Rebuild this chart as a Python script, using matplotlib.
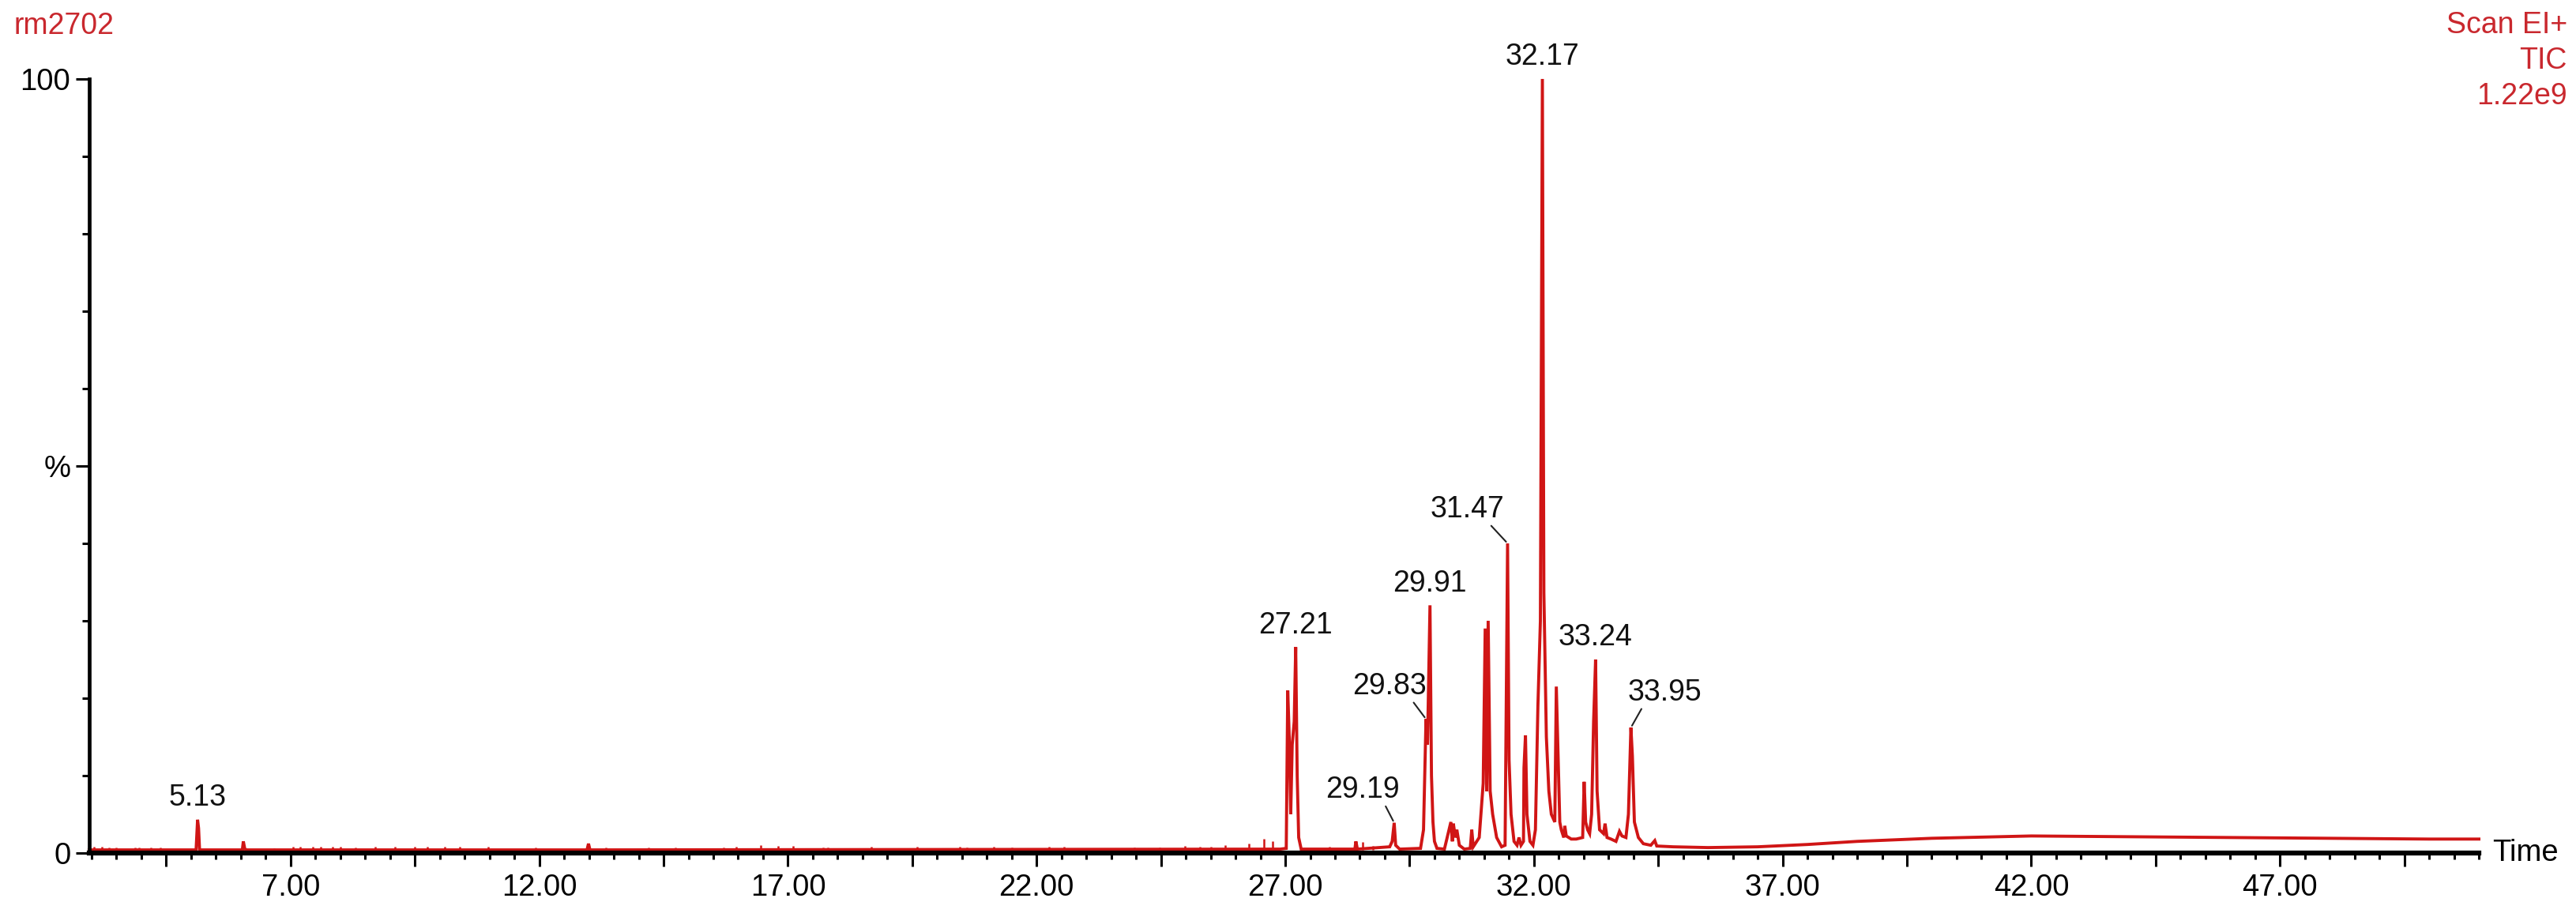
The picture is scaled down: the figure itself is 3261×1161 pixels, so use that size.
import numpy as np
import matplotlib
matplotlib.use('Agg')
import matplotlib.pyplot as plt
from matplotlib.ticker import FixedLocator, MultipleLocator, FuncFormatter

plt.rcParams['font.family'] = ['Liberation Sans', 'DejaVu Sans']

# TIC trace: retention time (min), relative abundance (%)
rt = [2.95, 5.10, 5.13, 5.15, 5.17, 6.03, 6.05, 6.08, 6.12, 12.96, 12.99, 13.02,
      26.0, 26.9, 27.02, 27.05, 27.08, 27.11, 27.14, 27.18, 27.21, 27.24, 27.27, 27.32,
      28.4, 28.42, 28.45, 29.1, 29.15, 29.19, 29.22, 29.3,
      29.72, 29.78, 29.83, 29.86, 29.91, 29.94, 29.97, 30.0, 30.05, 30.2,
      30.33, 30.36, 30.38, 30.42, 30.45, 30.5, 30.6, 30.72, 30.75, 30.78,
      30.9, 30.98, 31.02, 31.05, 31.08, 31.12, 31.17, 31.25, 31.35, 31.42,
      31.47, 31.5, 31.54, 31.6, 31.66, 31.7, 31.74, 31.79, 31.8, 31.83, 31.86, 31.92,
      31.98, 32.03, 32.08, 32.13, 32.17, 32.2, 32.25, 32.3, 32.35, 32.42, 32.45, 32.48,
      32.52, 32.55, 32.6, 32.62, 32.65, 32.75, 32.85, 32.98, 33.01, 33.04, 33.08, 33.12,
      33.16, 33.2, 33.24, 33.27, 33.32, 33.4, 33.43, 33.47, 33.55, 33.65, 33.72, 33.77,
      33.85, 33.9, 33.95, 33.98, 34.02, 34.1, 34.2, 34.35, 34.43, 34.47, 34.8, 35.5,
      36.5, 37.5, 38.5, 40.0, 42.0, 44.0, 46.0, 48.0, 50.0, 51.0]
rel = [0.4, 0.4, 4.3, 3.2, 0.4, 0.4, 1.5, 0.5, 0.4, 0.4, 1.2, 0.4,
       0.5, 0.5, 0.6, 21.0, 15.0, 5.0, 14.0, 17.0, 26.6, 10.0, 2.0, 0.5,
       0.5, 1.5, 0.5, 0.8, 1.5, 3.9, 1.0, 0.5,
       0.6, 3.0, 17.3, 14.0, 32.0, 10.0, 4.0, 1.5, 0.6, 0.5,
       4.0, 1.5, 3.8, 2.0, 3.0, 1.0, 0.5, 0.6, 3.0, 0.8,
       2.0, 9.0, 29.0, 8.0, 30.0, 8.0, 5.0, 2.0, 0.8, 1.0,
       40.0, 12.0, 5.0, 1.5, 1.0, 2.0, 1.0, 1.5, 11.0, 15.2, 5.0, 1.5,
       1.0, 3.0, 19.0, 30.0, 100.0, 33.6, 15.0, 8.0, 5.0, 4.0, 21.5, 14.0,
       4.0, 3.0, 2.0, 3.5, 2.2, 1.8, 1.8, 2.0, 9.2, 4.0, 3.0, 2.5,
       5.0, 17.0, 25.0, 8.0, 3.0, 2.5, 3.8, 2.0, 1.8, 1.5, 2.8, 2.2,
       2.0, 5.0, 16.2, 12.5, 4.0, 2.0, 1.2, 1.0, 1.6, 0.9, 0.8, 0.7,
       0.8, 1.1, 1.5, 1.9, 2.2, 2.1, 2.0, 1.9, 1.8, 1.8]

# small noise spikes on the early baseline
blip_rt = [3.05, 3.2, 3.35, 3.5, 3.87, 3.95, 4.19, 4.38, 6.67, 7.05, 7.2, 7.45, 7.6,
           7.85, 8.0, 8.3, 8.7, 9.1, 9.5, 9.75, 10.1, 10.4, 10.97, 11.93, 13.34, 14.19,
           14.74, 15.7, 15.96, 16.46, 16.81, 17.11, 17.7, 17.8, 18.67, 19.6, 20.45,
           20.6, 21.14, 21.5, 22.25, 22.55, 23.97, 24.47, 24.98, 25.28, 25.5, 25.8,
           26.27, 26.57, 26.75, 27.89, 28.55, 28.77]
blip_rel = [0.8, 0.8, 0.7, 0.7, 0.7, 0.7, 0.7, 0.7, 0.6, 0.8, 0.8, 0.8, 0.8,
            0.8, 0.8, 0.7, 0.8, 0.8, 0.8, 0.8, 0.8, 0.8, 0.8, 0.7, 0.7, 0.7,
            0.7, 0.7, 0.8, 1.0, 0.9, 0.9, 0.7, 0.7, 0.8, 0.8, 0.8,
            0.7, 0.8, 0.7, 0.8, 0.8, 0.7, 0.7, 0.9, 0.8, 0.8, 1.0,
            1.2, 1.8, 1.5, 0.8, 1.4, 0.9]

# labelled peaks
peak_rt = [5.13, 27.21, 29.19, 29.83, 29.91, 31.47, 32.17, 33.24, 33.95]
peak_rel = [4.3, 26.6, 3.9, 17.3, 32.0, 40.0, 100.0, 25.0, 16.2]
peak_labels = ['5.13', '27.21', '29.19', '29.83', '29.91', '31.47', '32.17', '33.24', '33.95']

# labels that sit off to the side with a leader line (offset in points)
leader = {'29.19': (-29, 30), '29.83': (-33, 30), '31.47': (-37, 31), '33.95': (31, 32)}

trace_col = '#d01515'
head_col = '#c9282e'

fig = plt.figure(figsize=(32.62, 11.61), dpi=100)
ax = fig.add_axes([0.0346, 0.0698, 0.9620 - 0.0346, 0.9139 - 0.0698])

ax.vlines(blip_rt, 0.4, blip_rel, color=trace_col, lw=1.8)
ax.plot(rt, rel, color=trace_col, lw=2.8, solid_joinstyle='miter', clip_on=False)

for t, h, lab in zip(peak_rt, peak_rel, peak_labels):
    if lab in leader:
        ax.annotate(lab, xy=(t, h), xytext=leader[lab], textcoords='offset points',
                    ha='center', va='center', fontsize=27, color='#111111',
                    arrowprops=dict(arrowstyle='-', color='#222222', lw=1.5,
                                    shrinkA=0, shrinkB=2,
                                    relpos=(0.8, 0.0) if leader[lab][0] < 0 else (0.2, 0.0)))
    else:
        ax.annotate(lab, xy=(t, h), xytext=(0, 7), textcoords='offset points',
                    ha='center', va='bottom', fontsize=27, color='#111111')

ax.set_xlim(2.95, 51.0)
ax.set_ylim(0, 100)

for s in ['top', 'right']:
    ax.spines[s].set_visible(False)
ax.spines['left'].set_linewidth(3.4)
ax.spines['bottom'].set_linewidth(4.5)

ax.xaxis.set_major_locator(FixedLocator(np.arange(4.5, 51.1, 2.5)))
ax.xaxis.set_minor_locator(MultipleLocator(0.5))
ax.xaxis.set_major_formatter(FuncFormatter(
    lambda x, p: f'{x:.2f}' if abs((x - 2) % 5) < 1e-6 or abs((x - 2) % 5 - 5) < 1e-6 else ''))
ax.tick_params(axis='x', which='major', length=12, width=2.2, pad=7, labelsize=27.5)
ax.tick_params(axis='x', which='minor', length=6, width=2.2)

ax.yaxis.set_major_locator(FixedLocator([0, 50, 100]))
ax.yaxis.set_major_formatter(FuncFormatter(lambda y, p: {0: '0', 50: '%', 100: '100'}.get(int(round(y)), '')))
ax.yaxis.set_minor_locator(MultipleLocator(10))
ax.tick_params(axis='y', which='major', length=12, width=2.2, pad=5, labelsize=27.5)
ax.tick_params(axis='y', which='minor', length=6.5, width=2.2)

ax.annotate('Time', xy=(1, 0), xycoords='axes fraction', xytext=(12, 0),
            textcoords='offset points', ha='left', va='center', fontsize=27.5)

fig.text(0.0055, 0.9716, 'rm2702', color=head_col, fontsize=27, va='center', ha='left')
fig.text(0.9963, 1 - 32 / 1161, 'Scan EI+', color=head_col, fontsize=27, va='center', ha='right')
fig.text(0.9963, 1 - 77 / 1161, 'TIC', color=head_col, fontsize=27, va='center', ha='right')
fig.text(0.9963, 1 - 122 / 1161, '1.22e9', color=head_col, fontsize=27, va='center', ha='right')

fig.savefig('out.png', dpi=100, facecolor='white')
